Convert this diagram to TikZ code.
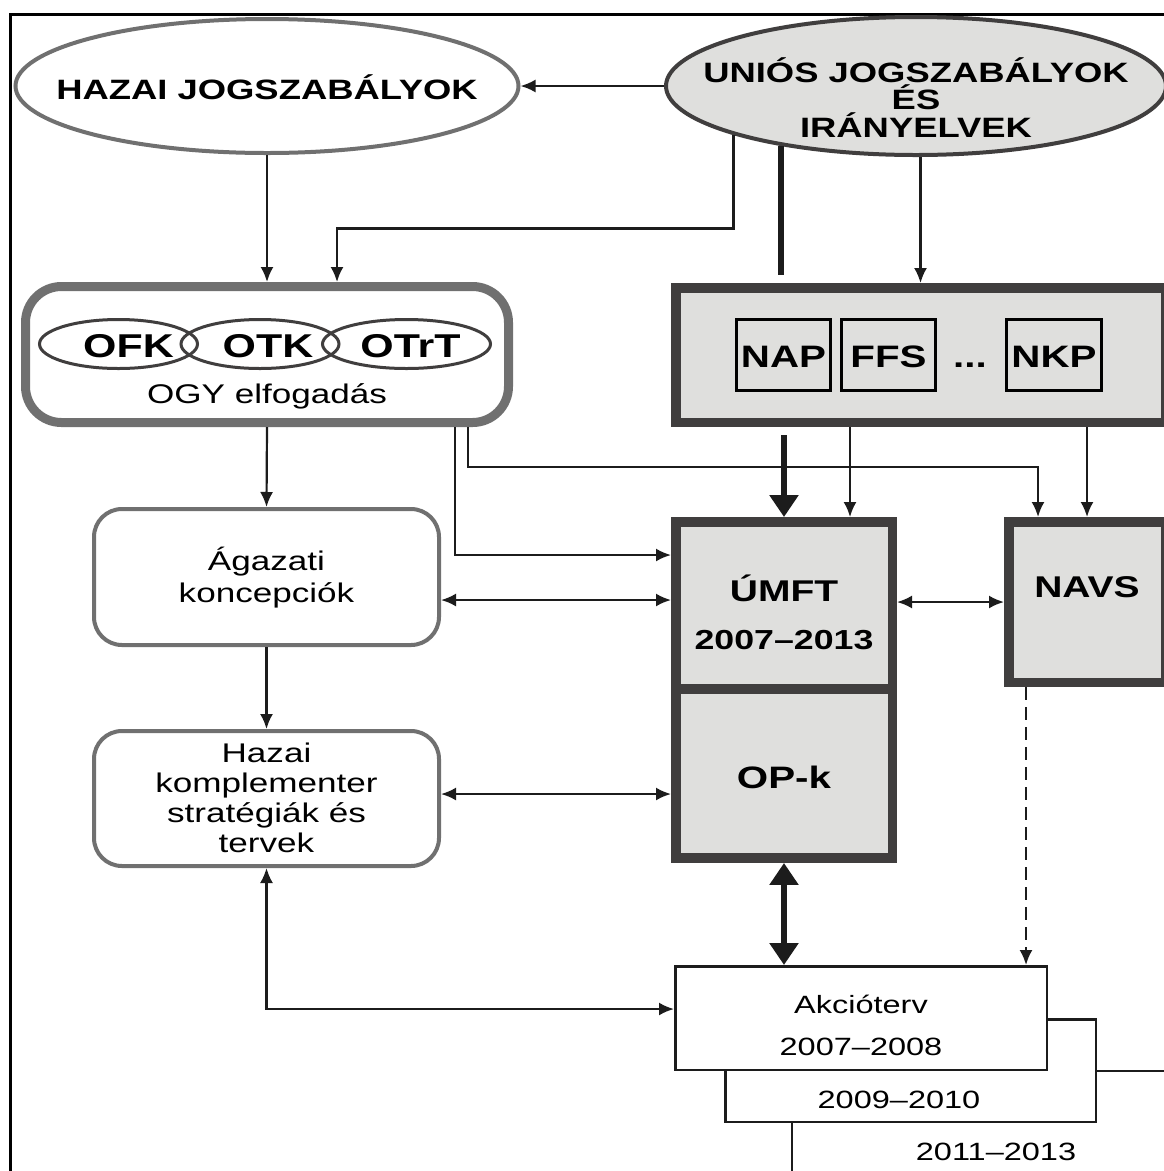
\documentclass[tikz,border=0pt]{standalone}
\usepackage{fontspec}
\setmainfont{Liberation Sans}[FakeStretch=1.3]
\usetikzlibrary{arrows.meta,shapes.geometric}
\definecolor{lightfill}{RGB}{223,223,221}
\definecolor{darkline}{RGB}{64,62,62}
\definecolor{midline}{RGB}{112,112,112}
\definecolor{arrowcol}{RGB}{28,28,28}
\newcommand{\placetext}[3][0pt]{\makebox[0pt]{\hspace{#1}\hspace{#1}\raisebox{#2}[0pt][0pt]{\vtop{\lineskiplimit=-100pt\let\\\cr\halign{\hfil##\hfil\cr#3\crcr}}}}}
\begin{document}
\begin{tikzpicture}[x=1pt,y=-1pt,
  arrowtip/.tip={Latex[length=15pt,width=13pt]},
  bigarrowtip/.tip={Triangle[length=22pt,width=28pt]},
  arr/.style={draw=arrowcol,line width=2.2pt,-arrowtip},
  darr/.style={draw=arrowcol,line width=2.2pt,arrowtip-arrowtip},
  dasharr/.style={arr,dash pattern=on 13pt off 7pt},
  thickline/.style={draw=arrowcol,line width=6pt},
  thickarr/.style={thickline,-bigarrowtip},
  thickdarr/.style={thickline,bigarrowtip-bigarrowtip},
  nosep/.style={inner sep=0pt},
  titleell/.style={nosep,ellipse,line width=4pt,font=\bfseries\fontsize{28}{27.5}\selectfont},
  smallell/.style={nosep,ellipse,draw=darkline,line width=3pt,minimum width=158pt,minimum height=49pt,font=\bfseries\fontsize{33}{36}\selectfont},
  darkbox/.style={nosep,rectangle,draw=darkline,fill=lightfill,line width=9.5pt},
  innerbox/.style={nosep,rectangle,draw=black,fill=lightfill,line width=3pt,minimum width=94pt,minimum height=71pt,font=\bfseries\fontsize{31}{36}\selectfont},
  softbox/.style={nosep,rectangle,rounded corners=28pt,draw=midline,fill=white,line width=4pt,minimum width=345pt,font=\fontsize{27}{30.3}\selectfont},
  plainbox/.style={nosep,rectangle,draw=arrowcol,fill=white,line width=2.5pt,font=\fontsize{25}{42}\selectfont},
]
\useasboundingbox (0,0) rectangle (1164,1171);
\clip (0,0) rectangle (1164,1171);
\fill[white] (0,0) rectangle (1164,1171);
\draw[line width=3pt,black] (10,14) rectangle (1250,1250);

% top ellipses
\node[titleell,draw=midline,fill=white,minimum width=503pt,minimum height=134pt] (hazai) at (267,86) {\placetext{-13pt}{HAZAI JOGSZABÁLYOK}};
\node[titleell,draw=darkline,fill=lightfill,minimum width=500pt,minimum height=138pt] (unios) at (916,86) {\placetext{4pt}{UNIÓS JOGSZABÁLYOK\\ÉS\\IRÁNYELVEK}};

% OGY box
\node[nosep,rectangle,rounded corners=36pt,draw=midline,fill=white,line width=9pt,minimum width=483pt,minimum height=136pt,font=\fontsize{27}{30}\selectfont] (ogy) at (267,354.5) {\placetext{-48.5pt}{OGY elfogadás}};
\node[smallell] (ofk) at (118.5,344) {\placetext[10pt]{-13pt}{OFK}};
\node[smallell] (otk) at (260,344) {\placetext[8pt]{-13pt}{OTK}};
\node[smallell,minimum width=168pt] (otrt) at (406.5,344) {\placetext[4pt]{-13pt}{OTrT}};

% NAP box
\node[darkbox,minimum width=489.5pt,minimum height=134.5pt] (napbox) at (920.5,355) {};
\node[innerbox] (nap) at (783.5,355) {\placetext{-12pt}{NAP}};
\node[innerbox] (ffs) at (888.5,355) {\placetext{-12pt}{FFS}};
\node[nosep,font=\bfseries\fontsize{31}{36}\selectfont] (dots) at (970,355) {\placetext{-12pt}{...}};
\node[innerbox,minimum width=95pt] (nkp) at (1054,355) {\placetext{-12pt}{NKP}};

% UMFT, OP-k, NAVS
\node[darkbox,minimum width=216.5pt,minimum height=167.25pt,font=\bfseries\fontsize{30}{48}\selectfont] (umft) at (784,605.4) {\placetext{3.5pt}{ÚMFT\\\fontsize{27.5}{48}\selectfont 2007–2013}};
\node[darkbox,minimum width=216.5pt,minimum height=169.25pt,font=\bfseries\fontsize{31}{36}\selectfont] (opk) at (784,773.6) {\placetext{-14.5pt}{OP-k}};
\node[darkbox,minimum width=156.5pt,minimum height=160.5pt,font=\bfseries\fontsize{30}{36}\selectfont] (navs) at (1087,602) {\placetext{5pt}{NAVS}};

% left boxes
\node[softbox,minimum height=136pt,font=\fontsize{27}{32}\selectfont] (agazati) at (266.5,577) {\placetext{7pt}{Ágazati\\koncepciók}};
\node[softbox,minimum height=135pt] (hazaibox) at (266.5,798.5) {\placetext{36.5pt}{Hazai\\komplementer\\stratégiák és\\tervek}};

% action plans
\node[plainbox,minimum width=460pt,minimum height=160pt] (y1113) at (1022,1151) {\placetext[-26pt]{-9pt}{2011–2013}};
\node[plainbox,minimum width=370.5pt,minimum height=102.5pt] (y0910) at (910.5,1070.5) {\placetext[-11.5pt]{-37.5pt}{2009–2010}};
\node[plainbox,minimum width=371.5pt,minimum height=103.5pt] (akcio) at (861,1018) {\placetext{5pt}{Akcióterv\\2007–2008}};

% connectors
\draw[arr] (unios.west) -- (hazai.east);
\draw[arr] (hazai.south) -- (ogy.north);
\coordinate (ogyin) at ([xshift=70pt]ogy.north);
\draw[arr] (unios.195) -- ++(0,93.5) -| (ogyin);
\coordinate (thk) at (unios.204.4 |- napbox.north);
\draw[thickline,shorten >=8pt] (unios.204.4) -- (thk);
\draw[arr] (napbox.north |- unios.south) -- (napbox.north);

\coordinate (ogyout1) at ([xshift=201pt]ogy.south);
\coordinate (navsin) at ([xshift=-49pt]navs.north);
\draw[arr] (ogyout1) -- ++(0,40) -| (navsin);
\coordinate (ogyout2) at ([xshift=188pt]ogy.south);
\coordinate (umftin) at ([yshift=50.4pt]umft.west);
\draw[arr] (ogyout2) |- (umftin);
\draw[arr] (ogy.south) -- (agazati.north);

\coordinate (nb1) at (napbox.south -| umft.north);
\draw[thickarr,shorten <=8pt] (nb1) -- (umft.north);
\coordinate (umftin2) at ([xshift=66pt]umft.north);
\draw[arr] (umftin2 |- napbox.south) -- (umftin2);
\draw[arr] (navs.north |- napbox.south) -- (navs.north);

\coordinate (agout) at ([yshift=-23pt]agazati.east);
\draw[darr] (agout) -- (agout -| umft.west);
\draw[darr] (navs.west -| umft.east) -- (navs.west);
\draw[arr] (agazati.south) -- (hazaibox.north);
\coordinate (hzout) at ([yshift=4.5pt]hazaibox.east);
\draw[darr] (hzout) -- (hzout -| opk.west);
\coordinate (akin) at ([yshift=9pt]akcio.west);
\draw[darr] (hazaibox.south) |- (akin);
\draw[thickdarr] (opk.south) -- (opk.south |- akcio.north);
\coordinate (navsout) at ([xshift=-61pt]navs.south);
\draw[dasharr] (navsout) -- (navsout |- akcio.north);
\end{tikzpicture}
\end{document}
